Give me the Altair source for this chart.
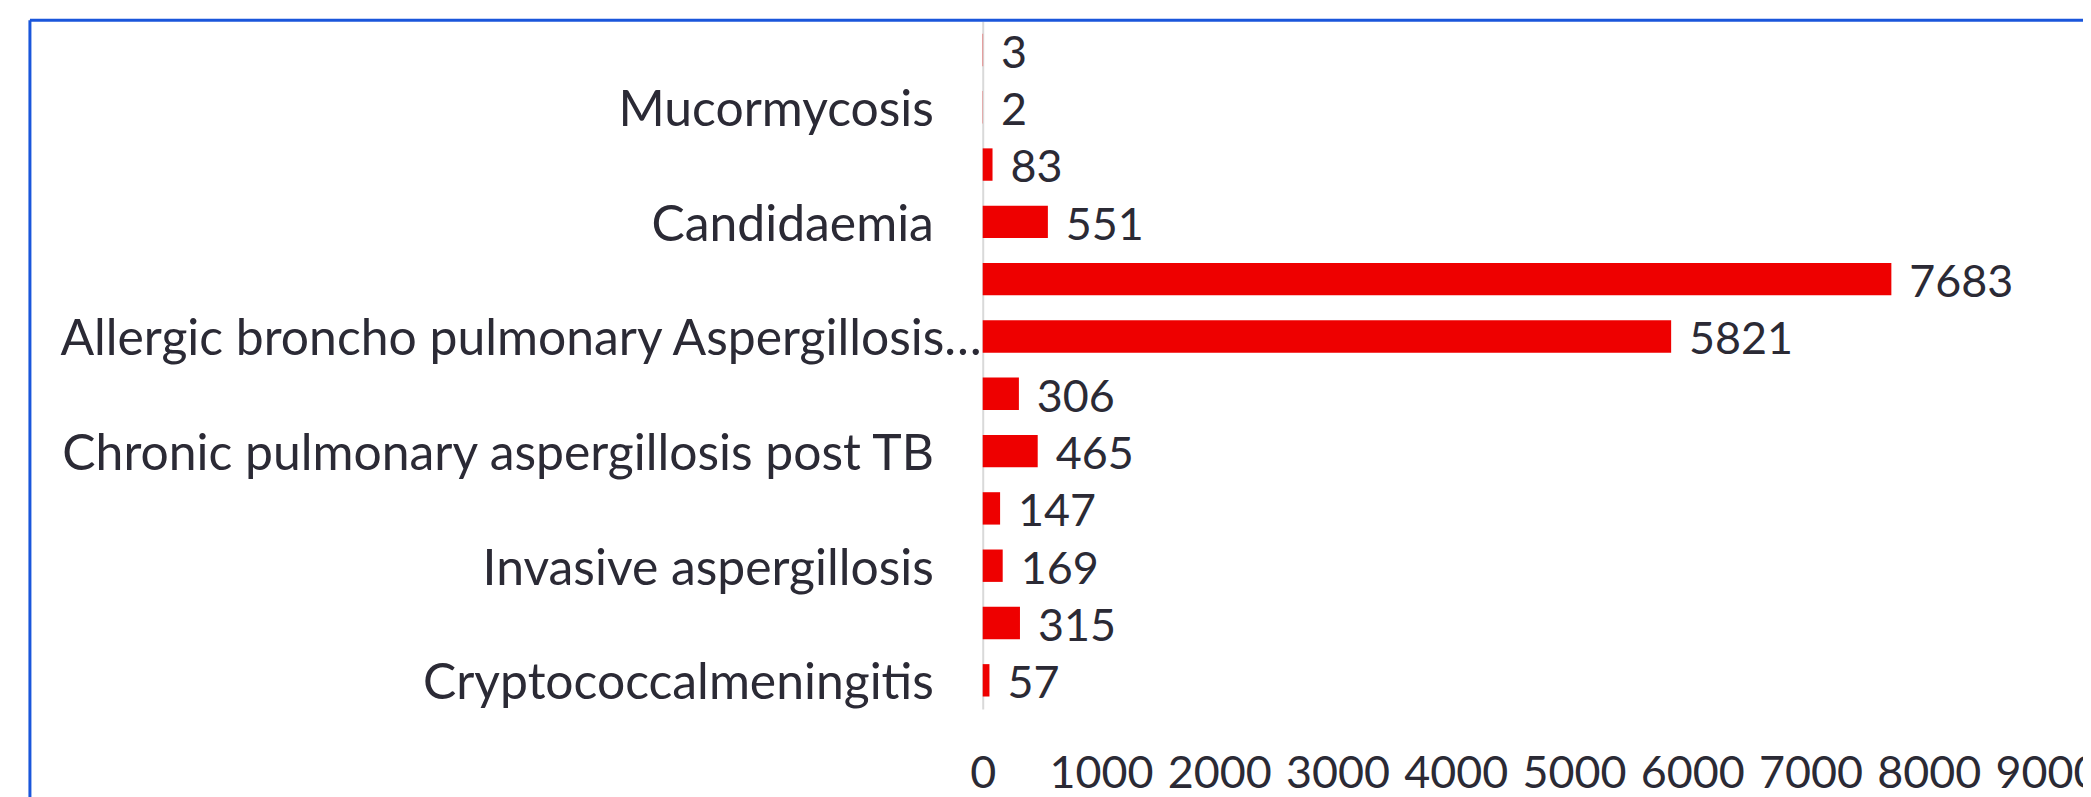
import altair as alt
import pandas as pd

# rows from top to bottom
row_index = list(range(12))
row_labels = ["", "Mucormycosis", "", "Candidaemia", "",
              "Allergic broncho pulmonary Aspergillosis…", "",
              "Chronic pulmonary aspergillosis post TB", "",
              "Invasive aspergillosis", "", "Cryptococcalmeningitis"]
values = [3, 2, 83, 551, 7683, 5821, 306, 465, 147, 169, 315, 57]
x_ticks = [0, 1000, 2000, 3000, 4000, 5000, 6000, 7000, 8000, 9000]

df = pd.DataFrame({"idx": row_index, "label": row_labels, "value": values})

FONT = "Lato"
TXT = "#2b2a35"
FS_CAT = 50
FS_NUM = 45

y_enc = alt.Y("idx:O", sort=row_index,
              scale=alt.Scale(paddingInner=0.435, paddingOuter=0.2175),
              axis=alt.Axis(labels=False, ticks=False, title=None,
                            domainColor="#d9d9d9", domainWidth=2))
x_scale = alt.Scale(domain=[0, 9000], nice=False)

base = alt.Chart(df)

bars = base.mark_bar(color="#ee0000").encode(
    y=y_enc,
    x=alt.X("value:Q", scale=x_scale,
            axis=alt.Axis(values=x_ticks, format="d", title=None, grid=False,
                          ticks=False, domain=False, labelFont=FONT,
                          labelFontSize=FS_NUM, labelColor=TXT, labelPadding=43,
                          labelFlush=False, labelOverlap=False)),
)

value_text = base.mark_text(align="left", baseline="middle", dx=18, dy=4,
                            font=FONT, fontSize=FS_NUM, color=TXT).encode(
    y=alt.Y("idx:O", sort=row_index),
    x=alt.X("value:Q", scale=x_scale),
    text=alt.Text("value:Q"),
)

cat_text = base.transform_filter(
    "datum.label != '' && indexof(datum.label, '…') < 0"
).mark_text(align="right", baseline="middle", dx=-49, dy=4,
            font=FONT, fontSize=FS_CAT, color=TXT).encode(
    y=alt.Y("idx:O", sort=row_index),
    x=alt.datum(0),
    text="label:N",
)

cat_text_long = base.transform_filter(
    "indexof(datum.label, '…') >= 0"
).mark_text(align="right", baseline="middle", dx=-1, dy=4,
            font=FONT, fontSize=FS_CAT, color=TXT).encode(
    y=alt.Y("idx:O", sort=row_index),
    x=alt.datum(0),
    text="label:N",
)

# decorative blue frame (top and left edges of the slide box)
frame_top = alt.Chart(pd.DataFrame({"a": [0]})).mark_rule(
    color="#1a56db", strokeWidth=3).encode(
    x=alt.value(-956), x2=alt.value(1200), y=alt.value(-1))
frame_left = alt.Chart(pd.DataFrame({"a": [0]})).mark_rule(
    color="#1a56db", strokeWidth=3).encode(
    x=alt.value(-956), y=alt.value(-1), y2=alt.value(900))

chart = alt.layer(frame_top, frame_left, bars, value_text, cat_text, cat_text_long).properties(
    width=1068, height=690,
    autosize=alt.AutoSizeParams(type="none"),
    padding={"left": 978, "top": 12, "right": 36, "bottom": 90},
).configure(background="white", view=alt.ViewConfig(stroke=None))

chart.save("out.html", embed_options={"renderer": "svg", "actions": False})
